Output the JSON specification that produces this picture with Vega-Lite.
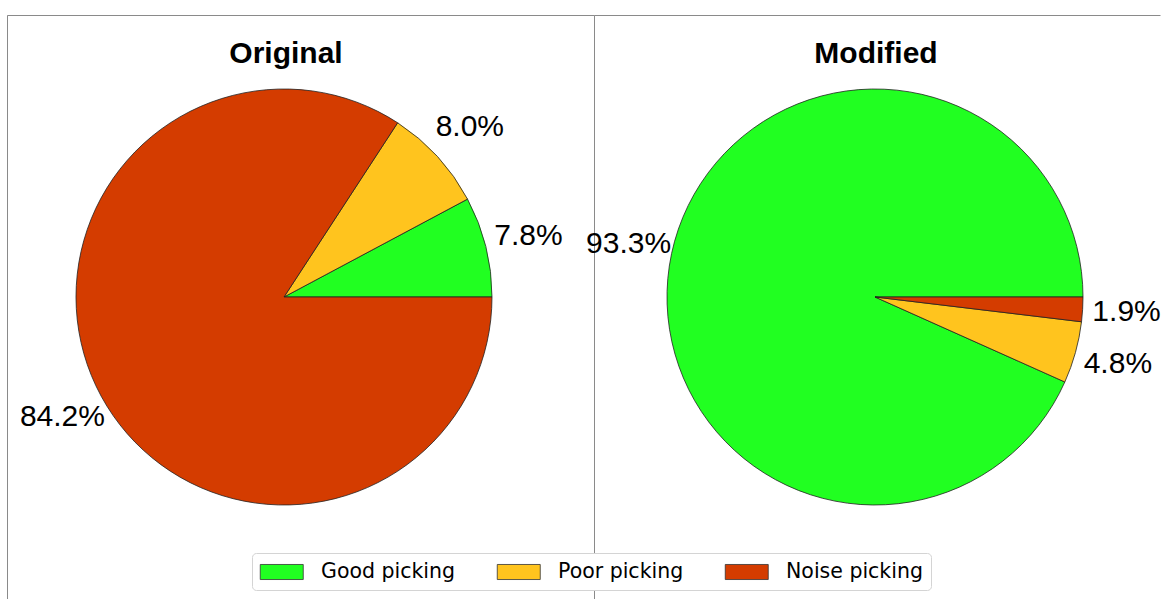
{
  "$schema": "https://vega.github.io/schema/vega-lite/v6.json",
  "padding": {"left": 6, "top": 14, "right": 0, "bottom": 0},
  "background": "white",
  "bounds": "flush",
  "data": {"values": [
    {"panel": "Original", "category": "Good picking", "share": 7.8},
    {"panel": "Original", "category": "Poor picking", "share": 8.0},
    {"panel": "Original", "category": "Noise picking", "share": 84.2},
    {"panel": "Modified", "category": "Good picking", "share": 93.3},
    {"panel": "Modified", "category": "Poor picking", "share": 4.8},
    {"panel": "Modified", "category": "Noise picking", "share": 1.9}
  ]},
  "transform": [
    {"calculate": "indexof(['Good picking','Poor picking','Noise picking'], datum.category)", "as": "idx"},
    {"calculate": "format(datum.share, '.1f') + '%'", "as": "label"}
  ],
  "spacing": 0,
  "config": {
    "legend": {
      "orient": "none", "legendX": 245, "legendY": 538, "direction": "horizontal",
      "symbolType": "M-1,-0.7H3V0.7H-1Z", "symbolSize": 462.25,
      "symbolStrokeColor": "#333333", "symbolStrokeWidth": 0.8, "symbolOpacity": 1,
      "labelFont": "DejaVu Sans", "labelFontSize": 20.5, "labelColor": "black", "labelOffset": 38.5,
      "labelLimit": 0, "columnPadding": 40, "padding": 7.5,
      "strokeColor": "#d4d4d4", "cornerRadius": 4, "fillColor": "white"
    }
  },
  "hconcat": [
    {
      "width": 587, "height": 585,
      "view": {"stroke": "#8a8a8a", "strokeWidth": 1, "strokeDash": [587, 1172, 585]},
      "title": {"text": "Original", "font": "Liberation Sans", "fontSize": 30, "fontWeight": "bold", "color": "black", "offset": -78, "dx": -14.5, "anchor": "middle", "frame": "group", "baseline": "alphabetic"},
      "transform": [{"filter": "datum.panel === 'Original'"}],
      "encoding": {
        "theta": {"field": "share", "type": "quantitative", "stack": true, "scale": {"domain": [0, 100], "range": [1.5707963268, -4.7123889804]}},
        "order": {"field": "idx", "type": "quantitative"},
        "color": {"field": "category", "type": "nominal", "title": null,
          "scale": {"domain": ["Good picking", "Poor picking", "Noise picking"], "range": ["#21ff21", "#ffc41e", "#d43c00"]}}
      },
      "layer": [
        {"mark": {"type": "arc", "outerRadius": 208, "stroke": "#222222", "strokeWidth": 0.8, "xOffset": -16.5, "yOffset": -10.5}},
        {"mark": {"type": "text", "radius": 252, "font": "Liberation Sans", "fontSize": 30, "align": "center", "baseline": "middle", "xOffset": -16.5, "yOffset": -10.5},
         "encoding": {"text": {"field": "label"}, "color": {"value": "black"}}}
      ]
    },
    {
      "width": 566, "height": 585,
      "view": {"stroke": "#8a8a8a", "strokeWidth": 1, "strokeDash": [566, 1151, 585]},
      "title": {"text": "Modified", "font": "Liberation Sans", "fontSize": 30, "fontWeight": "bold", "color": "black", "offset": -78, "dx": -1, "anchor": "middle", "frame": "group", "baseline": "alphabetic"},
      "transform": [{"filter": "datum.panel === 'Modified'"}],
      "encoding": {
        "theta": {"field": "share", "type": "quantitative", "stack": true, "scale": {"domain": [0, 100], "range": [1.5707963268, -4.7123889804]}},
        "order": {"field": "idx", "type": "quantitative"},
        "color": {"field": "category", "type": "nominal", "title": null,
          "scale": {"domain": ["Good picking", "Poor picking", "Noise picking"], "range": ["#21ff21", "#ffc41e", "#d43c00"]}}
      },
      "layer": [
        {"mark": {"type": "arc", "outerRadius": 208, "stroke": "#222222", "strokeWidth": 0.8, "xOffset": -2, "yOffset": -10.5}},
        {"mark": {"type": "text", "radius": 252, "font": "Liberation Sans", "fontSize": 30, "align": "center", "baseline": "middle", "xOffset": -2, "yOffset": -10.5},
         "encoding": {"text": {"field": "label"}, "color": {"value": "black"}}}
      ]
    }
  ],
  "resolve": {"scale": {"theta": "independent"}}
}
